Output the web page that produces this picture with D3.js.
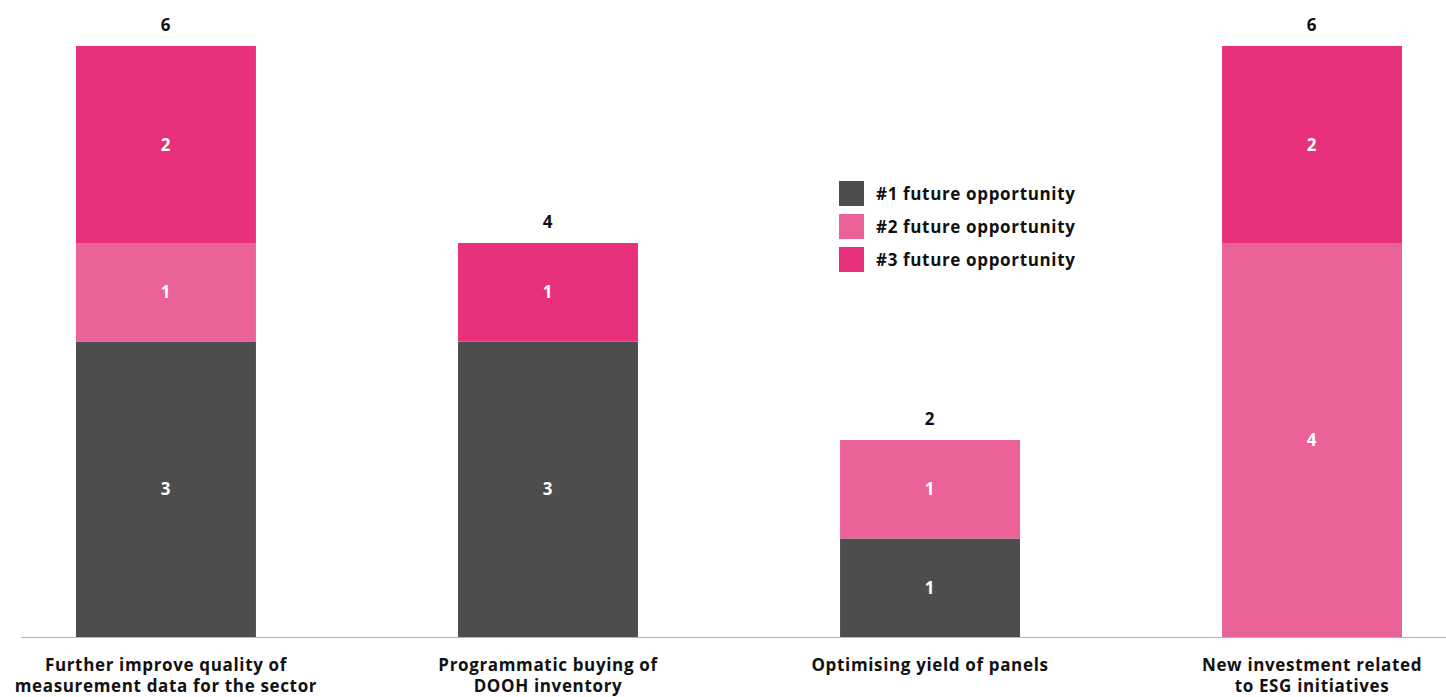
<!DOCTYPE html>
<html><head><meta charset="utf-8">
<script src="https://cdn.jsdelivr.net/npm/d3@7"></script>
<style>body{margin:0;background:#fff}svg{display:block}text{font-family:"Open Sans","Noto Sans",sans-serif;font-weight:700;letter-spacing:0.65px}</style>
</head><body>
<script>
const categories = [
  ["Further improve quality of","measurement data for the sector"],
  ["Programmatic buying of","DOOH inventory"],
  ["Optimising yield of panels"],
  ["New investment related","to ESG initiatives"]
];
const seriesNames = ["#1 future opportunity","#2 future opportunity","#3 future opportunity"];
const s1 = [3,3,1,0];
const s2 = [1,0,1,4];
const s3 = [2,1,0,2];
const colors = ["#4d4d4d","#ea6297","#e8307d"];

const W=1446,H=697;
const svg=d3.select("body").append("svg").attr("width",W).attr("height",H);
const x=d3.scaleBand().domain(d3.range(categories.length)).range([76,1402]).paddingInner(0.529).paddingOuter(0);
const y=d3.scaleLinear().domain([0,6]).range([637,46]);

const data=categories.map((c,i)=>({i,v:[s1[i],s2[i],s3[i]]}));
const stack=d3.stack().keys([0,1,2]).value((d,k)=>d.v[k]);
const layers=stack(data);

layers.forEach((layer,k)=>{
  const g=svg.append("g");
  layer.forEach((seg,i)=>{
    const val=seg[1]-seg[0];
    if(val<=0)return;
    g.append("rect").attr("x",x(i)).attr("width",x.bandwidth())
      .attr("y",y(seg[1])).attr("height",y(seg[0])-y(seg[1])).attr("fill",colors[k]);
    g.append("text").attr("x",x(i)+x.bandwidth()/2).attr("y",(y(seg[0])+y(seg[1]))/2)
      .attr("dy","0.36em").attr("text-anchor","middle").attr("fill","#fff").attr("font-size",17).text(val);
  });
});

// totals
data.forEach(d=>{
  const t=d3.sum(d.v);
  svg.append("text").attr("x",x(d.i)+x.bandwidth()/2).attr("y",y(t)-21)
    .attr("dy","0.36em").attr("text-anchor","middle").attr("fill","#111").attr("font-size",17).text(t);
});

// axis
svg.append("line").attr("x1",21).attr("x2",W).attr("y1",y(0)+0.5).attr("y2",y(0)+0.5).attr("stroke","#b3b3b3").attr("stroke-width",1);

categories.forEach((lines,i)=>{
  const t=svg.append("text").attr("text-anchor","middle").attr("fill","#111").attr("font-size",17);
  lines.forEach((l,j)=>t.append("tspan").attr("x",x(i)+x.bandwidth()/2).attr("y",671+j*21).text(l));
});

// legend
const lg=svg.append("g").attr("transform","translate(839,181)");
seriesNames.forEach((n,k)=>{
  lg.append("rect").attr("x",0).attr("y",k*33).attr("width",25).attr("height",25).attr("fill",colors[k]);
  lg.append("text").attr("x",37).attr("y",k*33+12.5).attr("dy","0.36em").attr("fill","#111").attr("font-size",17).text(n);
});
</script>
</body></html>
